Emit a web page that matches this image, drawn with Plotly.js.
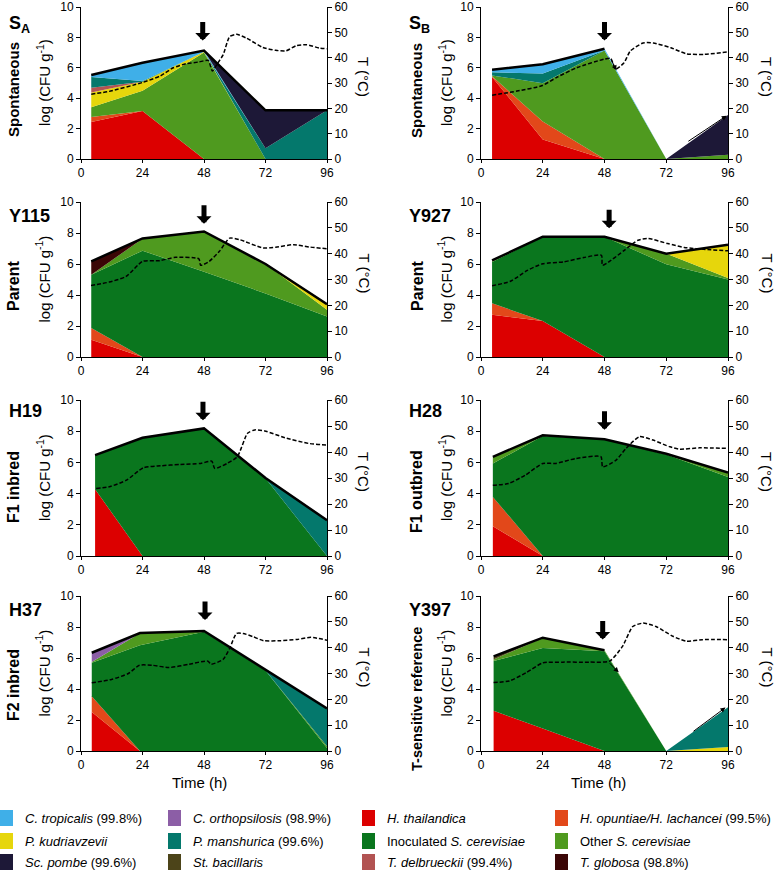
<!DOCTYPE html>
<html>
<head>
<meta charset="utf-8">
<script src="https://cdn.plot.ly/plotly-3.0.1.min.js"></script>
<style>
  body { margin: 0; background: #fff; }
  #chart { width: 777px; height: 872px; }
</style>
</head>
<body>
<div id="chart"></div>
<script>
// species (stack order, bottom to top)
var speciesKeys = ['thai', 'opun', 'inoc', 'other', 'kudr', 'delb', 'mansh', 'orth', 'trop', 'bac', 'glob', 'pombe'];
var speciesColors = {
    thai: '#dc0000', opun: '#e2481a', inoc: '#0a761e', other: '#4f9a1f',
    kudr: '#e6d60c', delb: '#b25352', mansh: '#04786c', orth: '#8c5ea6',
    trop: '#3fafe8', bac: '#4c4419', glob: '#3b0606', pombe: '#1d1837'
};

// ---- S_A spontaneous ----
var saHours = [4, 24, 48, 72, 96];
var saThai = [2.44, 3.15, 0, 0, 0];
var saOpun = [0.32, 0, 0, 0, 0];
var saOther = [0.65, 1.34, 7.0, 0, 0];
var saKudr = [0.97, 0.59, 0.05, 0, 0];
var saDelb = [0.3, 0, 0, 0, 0];
var saMansh = [0.72, 0.05, 0, 0.7, 3.2];
var saTrop = [0.13, 1.2, 0.08, 0, 0];
var saPombe = [0, 0, 0, 2.5, 0];
var saTempH = [4, 11, 24, 31, 36, 41, 46, 49.6, 51.3, 53, 55.5, 58, 60.7, 64.6, 71, 76, 80, 84, 88, 93, 96];
var saTempC = [25.6, 26.7, 30.2, 32.8, 36, 37.6, 38.3, 38.9, 34.7, 37.3, 41.2, 48.3, 49.2, 47.7, 44, 42.9, 42.7, 44.7, 45.1, 43.8, 43.5];

// ---- S_B spontaneous ----
var sbHours = [4.3, 24, 48, 72, 96];
var sbThai = [5.4, 1.29, 0, 0, 0];
var sbOpun = [0.05, 1.18, 0, 0, 0];
var sbOther = [0.05, 2.52, 7.14, 0, 0.28];
var sbMansh = [0.2, 0.64, 0, 0, 0];
var sbTrop = [0.17, 0.6, 0.11, 0, 0];
var sbPombe = [0, 0, 0, 0, 2.62];
var sbTempH = [4.3, 14, 23.8, 29.6, 37.4, 47.8, 50.4, 52.3, 55.6, 58, 63, 67, 73.8, 80, 86.8, 96];
var sbTempC = [25.2, 26.8, 29, 32.3, 36.1, 39.4, 39.7, 35.5, 38, 42.6, 45.8, 45.8, 43.9, 41.5, 41.3, 42.3];

// ---- Y115 parent ----
var y115Hours = [4, 24, 48, 72, 96];
var y115Thai = [1.12, 0, 0, 0, 0];
var y115Opun = [0.75, 0, 0, 0, 0];
var y115Inoc = [3.44, 6.86, 5.5, 4.1, 2.62];
var y115Other = [0, 0.77, 2.6, 1.9, 0.43];
var y115Kudr = [0, 0, 0, 0, 0.35];
var y115Glob = [0.86, 0.02, 0, 0, 0];
var y115TempH = [3.9, 11, 17.6, 24, 30.7, 37, 46, 46.7, 50, 54, 58, 62, 71, 76, 83, 89, 96];
var y115TempC = [27.7, 29, 31.2, 37, 37.3, 38.6, 38, 35.5, 37, 40.9, 46, 45.4, 42.2, 42.5, 43.5, 42.6, 41.9];

// ---- Y927 parent ----
var y927Hours = [4.3, 24, 48, 72, 96];
var y927Thai = [2.72, 2.33, 0, 0, 0];
var y927Opun = [0.74, 0, 0, 0, 0];
var y927Inoc = [2.67, 5.43, 7.76, 5.98, 5.0];
var y927Other = [0.1, 0, 0, 0.69, 0.1];
var y927Kudr = [0, 0, 0, 0, 2.15];
var y927TempH = [4.3, 11.4, 18, 24, 32, 40, 46.8, 47.2, 50.5, 55.7, 61, 64.8, 72.6, 79, 88, 96];
var y927TempC = [27.6, 29.3, 33.5, 36.1, 36.8, 38.5, 39.4, 35.5, 37.4, 41.3, 45.2, 45.9, 43.9, 42.4, 41.6, 41.1];

// ---- H19 F1 inbred ----
var h19Hours = [5.5, 24, 48, 72, 96];
var h19Thai = [4.28, 0, 0, 0, 0];
var h19Inoc = [2.19, 7.58, 8.18, 4.98, 0];
var h19Mansh = [0, 0, 0, 0.02, 2.29];
var h19TempH = [5.9, 11, 17.8, 24.3, 31, 38.8, 46.7, 51, 52.2, 57, 61, 65, 67.8, 71.7, 79.6, 88.8, 96];
var h19TempC = [26, 26.6, 29.2, 33.9, 34.7, 35.2, 35.6, 36.5, 33.7, 35.6, 38.2, 47.2, 48.5, 48.1, 45.5, 43.3, 42.7];

// ---- H28 F1 outbred ----
var h28Hours = [4.6, 24, 48, 72, 96];
var h28Thai = [1.9, 0, 0, 0, 0];
var h28Opun = [1.89, 0, 0, 0, 0];
var h28Inoc = [2.14, 7.69, 7.47, 6.51, 5.07];
var h28Other = [0.43, 0.05, 0.02, 0.04, 0.28];
var h28TempH = [4.6, 10.7, 17.2, 24, 29, 36.8, 46.6, 47.3, 52.5, 56.4, 61.6, 66.8, 73.4, 77.3, 85, 96];
var h28TempC = [27.2, 27.9, 31.1, 35.6, 35.6, 37.5, 38.2, 34.3, 36.9, 41.4, 45.9, 44.6, 42, 41.1, 41.6, 41.4];

// ---- H37 F2 inbred ----
var h37Hours = [4.2, 23, 48, 72, 96];
var h37Thai = [2.52, 0, 0, 0, 0];
var h37Opun = [1.01, 0, 0, 0, 0];
var h37Inoc = [2.16, 6.83, 7.69, 5.2, 0.2];
var h37Other = [0.05, 0.76, 0.05, 0, 0.1];
var h37Mansh = [0, 0, 0, 0.05, 2.45];
var h37Orth = [0.6, 0.02, 0, 0, 0];
var h37TempH = [4.2, 11.9, 18.5, 22.8, 27.7, 34.3, 42.2, 49.5, 50.8, 55.4, 58, 60.7, 63.3, 67.3, 71.2, 77.8, 84.4, 89.7, 96];
var h37TempC = [26.4, 27.7, 30, 33.2, 33.2, 32.3, 33.6, 34.8, 33.6, 35.4, 39.7, 45.5, 45.5, 44.2, 42.7, 42.7, 43.2, 44, 42.9];

// ---- Y397 T-sensitive reference ----
var y397Hours = [4.9, 24, 48, 72, 96];
var y397Thai = [2.6, 1.45, 0, 0, 0];
var y397Inoc = [3.2, 5.2, 6.44, 0, 0];
var y397Other = [0.1, 0.64, 0.06, 0, 0];
var y397Bac = [0.2, 0.02, 0, 0, 0];
var y397Kudr = [0, 0, 0, 0, 0.26];
var y397Mansh = [0, 0, 0, 0, 2.56];
var y397TempH = [4.9, 11, 17.5, 24, 31.8, 42, 50, 55, 59, 63, 68, 74.6, 79.8, 86, 96];
var y397TempC = [26.5, 27.1, 30.3, 34.1, 34.4, 34.4, 34.8, 40.5, 48.2, 49.5, 48.2, 44.4, 42.5, 43.1, 43.1];

var panels = [
    {hours: saHours, layers: {thai: saThai, opun: saOpun, other: saOther, kudr: saKudr, delb: saDelb, mansh: saMansh, trop: saTrop, pombe: saPombe}, th: saTempH, tc: saTempC},
    {hours: sbHours, layers: {thai: sbThai, opun: sbOpun, other: sbOther, mansh: sbMansh, trop: sbTrop, pombe: sbPombe}, th: sbTempH, tc: sbTempC},
    {hours: y115Hours, layers: {thai: y115Thai, opun: y115Opun, inoc: y115Inoc, other: y115Other, kudr: y115Kudr, glob: y115Glob}, th: y115TempH, tc: y115TempC},
    {hours: y927Hours, layers: {thai: y927Thai, opun: y927Opun, inoc: y927Inoc, other: y927Other, kudr: y927Kudr}, th: y927TempH, tc: y927TempC},
    {hours: h19Hours, layers: {thai: h19Thai, inoc: h19Inoc, mansh: h19Mansh}, th: h19TempH, tc: h19TempC},
    {hours: h28Hours, layers: {thai: h28Thai, opun: h28Opun, inoc: h28Inoc, other: h28Other}, th: h28TempH, tc: h28TempC},
    {hours: h37Hours, layers: {thai: h37Thai, opun: h37Opun, inoc: h37Inoc, other: h37Other, mansh: h37Mansh, orth: h37Orth}, th: h37TempH, tc: h37TempC},
    {hours: y397Hours, layers: {thai: y397Thai, inoc: y397Inoc, other: y397Other, bac: y397Bac, kudr: y397Kudr, mansh: y397Mansh}, th: y397TempH, tc: y397TempC}
];

var panelNames = ['<b>S<sub>A</sub></b>', '<b>S<sub>B</sub></b>', '<b>Y115</b>', '<b>Y927</b>', '<b>H19</b>', '<b>H28</b>', '<b>H37</b>', '<b>Y397</b>'];
var rowNames = ['Spontaneous', 'Spontaneous', 'Parent', 'Parent', 'F1 inbred', 'F1 outbred', 'F2 inbred', 'T-sensitive reference'];

var legendNames = [
    '<i>C. tropicalis</i> (99.8%)', '<i>C. orthopsilosis</i> (98.9%)', '<i>H. thailandica</i>', '<i>H. opuntiae/H. lachancei</i> (99.5%)',
    '<i>P. kudriavzevii</i>', '<i>P. manshurica</i> (99.6%)', 'Inoculated <i>S. cerevisiae</i>', 'Other <i>S. cerevisiae</i>',
    '<i>Sc. pombe</i> (99.6%)', '<i>St. bacillaris</i>', '<i>T. delbrueckii</i> (99.4%)', '<i>T. globosa</i> (98.8%)'
];
var legendKeys = ['trop', 'orth', 'thai', 'opun', 'kudr', 'mansh', 'inoc', 'other', 'pombe', 'bac', 'delb', 'glob'];

// big arrows (hour, log value of the arrow tip)
var arrowAt = [[47.5, 7.8], [48, 7.8], [48, 8.6], [49.8, 8.3], [47.6, 8.7], [48, 8.1], [48.4, 8.45], [47.3, 7.2]];

var W = 777, H = 872;
var FONT = 'Liberation Sans, Arial, sans-serif';
var colPx = [[81, 327], [481, 728]];
var rowPx = [[7, 159], [202, 357], [400, 556], [596, 751]];
function px(x) { return x / W; }
function py(y) { return 1 - y / H; }

var data = [];
var layout = {
    width: W, height: H,
    margin: {l: 0, r: 0, t: 0, b: 0},
    paper_bgcolor: '#fff', plot_bgcolor: 'rgba(0,0,0,0)',
    showlegend: false,
    font: {family: FONT, size: 12, color: '#000'},
    annotations: [], shapes: []
};

panels.forEach(function (p, i) {
    var n = i + 1;
    var xid = n === 1 ? 'x' : 'x' + n;
    var yid = n === 1 ? 'y' : 'y' + n;
    var tid = 'y' + (n + 8);
    var col = i % 2, row = Math.floor(i / 2);
    var xd = [px(colPx[col][0]), px(colPx[col][1])];
    var yd = [py(rowPx[row][1]), py(rowPx[row][0])];

    var total = p.hours.map(function () { return 0; });
    speciesKeys.forEach(function (k) {
        var v = p.layers[k];
        if (!v) return;
        v.forEach(function (val, j) { total[j] += val; });
        data.push({
            x: p.hours, y: v, xaxis: xid, yaxis: yid,
            type: 'scatter', mode: 'none', stackgroup: 'g' + n,
            fillcolor: speciesColors[k], hoverinfo: 'skip'
        });
    });
    // thick outline of the total count
    data.push({
        x: p.hours,
        y: total.map(function (t) { return t > 0 ? t : null; }),
        xaxis: xid, yaxis: yid, type: 'scatter', mode: 'lines',
        line: {color: '#000', width: 2.5}, connectgaps: false, hoverinfo: 'skip'
    });
    // temperature
    data.push({
        x: p.th, y: p.tc, xaxis: xid, yaxis: tid, type: 'scatter', mode: 'lines',
        line: {color: '#000', width: 1.5, dash: '4px,2px', shape: 'spline', smoothing: 0.6}, hoverinfo: 'skip'
    });

    var axLine = {showline: true, linecolor: '#000', linewidth: 1, ticks: 'outside', ticklen: 4,
        tickcolor: '#000', showgrid: false, zeroline: false, tickfont: {size: 12, family: FONT}, fixedrange: true};
    layout['xaxis' + (n === 1 ? '' : n)] = Object.assign({}, axLine, {
        domain: xd, anchor: yid, range: [0, 96], tickvals: [0, 24, 48, 72, 96], ticklen: 3
    });
    layout['yaxis' + (n === 1 ? '' : n)] = Object.assign({}, axLine, {
        domain: yd, anchor: xid, range: [0, 10], dtick: 2
    });
    layout['yaxis' + (n + 8)] = Object.assign({}, axLine, {
        overlaying: yid, anchor: xid, side: 'right', range: [0, 60], dtick: 10
    });

    // labels
    var cx = col === 0 ? 0 : 400;
    var midY = (rowPx[row][0] + rowPx[row][1]) / 2;
    var nameY = [24, 216, 411, 610][row];
    layout.annotations.push({
        xref: 'paper', yref: 'paper', x: px(cx + 7), y: py(nameY),
        xanchor: 'left', yanchor: 'middle', showarrow: false,
        text: panelNames[i], font: {size: 18, family: FONT}
    });
    var rowLabY = [90, 91, 286, 286, 487, 492, 685, 699][i];
    layout.annotations.push({
        xref: 'paper', yref: 'paper', x: px(cx + 13 + (col ? 4 : 0)), y: py(rowLabY),
        xanchor: 'center', yanchor: 'middle', showarrow: false, textangle: -90,
        text: '<b>' + rowNames[i] + '</b>', font: {size: i === 7 ? 14.5 : (row === 0 ? 15 : 16), family: FONT}
    });
    layout.annotations.push({
        xref: 'paper', yref: 'paper', x: px(cx + 43 + (col ? 2 : 0)), y: py(midY),
        xanchor: 'center', yanchor: 'middle', showarrow: false, textangle: -90,
        text: 'log (CFU g<sup>-1</sup>)', font: {size: 15, family: FONT}
    });
    layout.annotations.push({
        xref: 'paper', yref: 'paper', x: px(col ? 767 : 364), y: py(midY - 6),
        xanchor: 'center', yanchor: 'middle', showarrow: false, textangle: 90,
        text: 'T (°C)', font: {size: 15, family: FONT}
    });
    if (row === 3) {
        layout.annotations.push({
            xref: 'paper', yref: 'paper', x: px(col ? 598 : 199), y: py(782),
            xanchor: 'center', yanchor: 'middle', showarrow: false,
            text: 'Time (h)', font: {size: 15, family: FONT}
        });
    }
    // thick down arrow
    layout.annotations.push({
        xref: xid, yref: yid, x: arrowAt[i][0], y: arrowAt[i][1],
        ax: 0, ay: -20, showarrow: true, arrowhead: 1, arrowsize: 0.5, arrowwidth: 5,
        arrowcolor: '#000', text: ''
    });
});

// small arrows on panels S_B and Y397
layout.annotations.push(
    {xref: 'x2', yref: 'y10', axref: 'x2', ayref: 'y10', x: 52.6, y: 35, ax: 50.4, ay: 39.7,
        showarrow: true, arrowhead: 2, arrowsize: 1, arrowwidth: 1, arrowcolor: '#000', text: ''},
    {xref: 'x2', yref: 'y2', axref: 'x2', ayref: 'y2', x: 95.5, y: 2.85, ax: 80, ay: 1.1,
        showarrow: true, arrowhead: 2, arrowsize: 1, arrowwidth: 1, arrowcolor: '#000', text: ''},
    {xref: 'x8', yref: 'y16', axref: 'x8', ayref: 'y16', x: 53.5, y: 30.5, ax: 49.5, ay: 34.5,
        showarrow: true, arrowhead: 2, arrowsize: 1, arrowwidth: 1, arrowcolor: '#000', text: ''},
    {xref: 'x8', yref: 'y8', axref: 'x8', ayref: 'y8', x: 95, y: 2.8, ax: 82, ay: 1.2,
        showarrow: true, arrowhead: 2, arrowsize: 1, arrowwidth: 1, arrowcolor: '#000', text: ''}
);

// legend block at the bottom
var legColSq = [0, 168, 362, 555];
var legRowY = [818, 841, 862];
legendKeys.forEach(function (k, j) {
    var c = j % 4, r = Math.floor(j / 4);
    layout.shapes.push({
        type: 'rect', xref: 'paper', yref: 'paper',
        x0: px(legColSq[c]), x1: px(legColSq[c] + 13),
        y0: py(legRowY[r] + 8), y1: py(legRowY[r] - 8),
        fillcolor: speciesColors[k], line: {width: 0}
    });
    layout.annotations.push({
        xref: 'paper', yref: 'paper', x: px(legColSq[c] + 23), y: py(legRowY[r]),
        xanchor: 'left', yanchor: 'middle', showarrow: false,
        text: legendNames[j], font: {size: 13, family: FONT}
    });
});

Plotly.newPlot('chart', data, layout, {staticPlot: true});
</script>
</body>
</html>
